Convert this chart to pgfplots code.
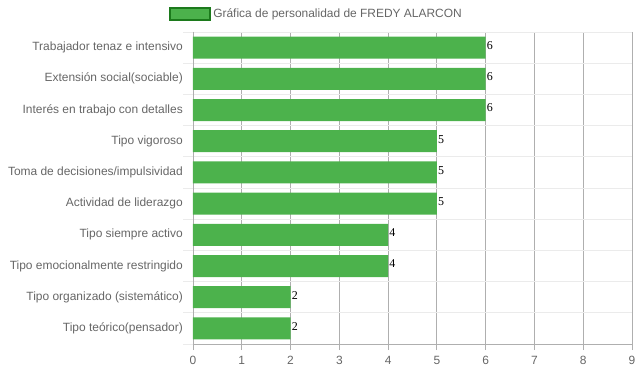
\documentclass[border=0pt]{standalone}
\usepackage{pgfplots}
\pgfplotsset{compat=1.18}
\usepackage{fontspec}
\setmainfont{Liberation Sans}
\newfontfamily\serifnum{Liberation Serif}
\definecolor{barfill}{RGB}{76,178,76}
\definecolor{bardark}{RGB}{28,122,28}
\definecolor{txtgray}{RGB}{102,102,102}
\definecolor{gridgray}{RGB}{175,175,175}
\definecolor{gridlight}{RGB}{235,235,235}
\begin{document}
\begin{tikzpicture}
\begin{axis}[
  scale only axis,
  width=439bp, height=312bp,
  xbar, bar width=22bp, bar shift=0pt,
  xmin=0, xmax=9,
  ymin=-0.5, ymax=9.5,
  y dir=reverse,
  xtick={0,1,...,9},
  ytick={0,1,...,9},
  yticklabels={Trabajador tenaz e intensivo,Extensión social(sociable),Interés en trabajo con detalles,Tipo vigoroso,Toma de decisiones/impulsividad,Actividad de liderazgo,Tipo siempre activo,Tipo emocionalmente restringido,Tipo organizado (sistemático),Tipo teórico(pensador)},
  minor ytick={-0.5,0.5,...,9.5},
  xmajorgrids, yminorgrids,
  major grid style={draw=gridgray, line width=0.8bp},
  minor grid style={draw=gridlight, line width=0.8bp},
  axis line style={draw=gridgray, line width=0.8bp},
  axis x line=bottom, axis y line=left,
  x axis line style={-}, y axis line style={-},
  tick align=outside,
  major tick length=6bp, minor tick length=10bp,
  x tick style={draw=gridgray, line width=0.8bp},
  major y tick style={draw=none},
  minor y tick style={draw=gridlight, line width=0.8bp},
  /pgf/number format/assume math mode=true,
  tick label style={font=\fontsize{12}{14}\selectfont, text=txtgray},
  yticklabel style={inner sep=0pt, xshift=-4bp},
  xticklabel style={inner sep=0pt, yshift=-6bp},
  nodes near coords,
  nodes near coords style={font=\serifnum\fontsize{12}{14}\selectfont, text=black, anchor=west, inner sep=1bp, yshift=2bp},
  legend style={at={(rel axis cs:0.281,1.0577)}, anchor=center, draw=none, fill=none, font=\fontsize{12}{14}\selectfont, text=txtgray, inner sep=0pt},
  legend image code/.code={\draw[fill=barfill, draw=bardark, line width=2.4bp] (-3bp,-6.5bp) rectangle (37bp,6bp);},
  clip=false,
]
\addplot[fill=barfill, draw=none] coordinates {
(6,0) (6,1) (6,2) (5,3) (5,4) (5,5) (4,6) (4,7) (2,8) (2,9)};
\addlegendentry{Gráfica de personalidad de FREDY ALARCON}
\coordinate (O) at (rel axis cs:0,0);
\end{axis}
\pgfresetboundingbox
\path[use as bounding box] (O) ++(-193bp,-28bp) rectangle ++(639bp,372bp);
\end{tikzpicture}
\end{document}
